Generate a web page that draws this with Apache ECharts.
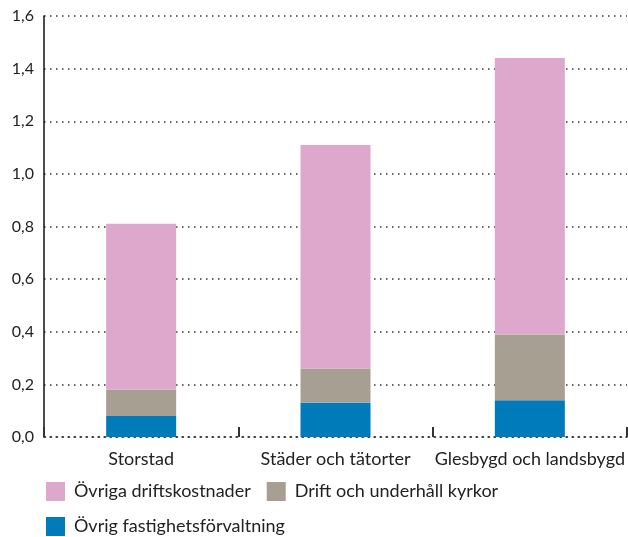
<!DOCTYPE html>
<html>
<head>
<meta charset="utf-8">
<script src="https://cdn.jsdelivr.net/npm/echarts@6/dist/echarts.min.js"></script>
<style>
  html, body { margin: 0; padding: 0; background: #fff; }
  #chart { width: 628px; height: 537px; }
</style>
</head>
<body>
<div id="chart"></div>
<script>
const categories = ['Storstad', 'Städer och tätorter', 'Glesbygd och landsbygd']
const fastighet = [0.08, 0.13, 0.14]   // Övrig fastighetsförvaltning
const kyrkor = [0.10, 0.13, 0.25]      // Drift och underhåll kyrkor
const ovriga = [0.63, 0.85, 1.05]      // Övriga driftskostnader
const legendNames = ['Övriga driftskostnader', 'Drift och underhåll kyrkor', 'Övrig fastighetsförvaltning']

const font = 'Lato'
const dotted = { color: '#333', width: 1.5, type: [1.5, 4.5] }

let myChart = echarts.init(document.getElementById('chart'))
myChart.setOption({
  animation: false,
  textStyle: { fontFamily: font },
  grid: {
    left: 44,
    right: 1,
    top: 16,
    bottom: 100
  },
  legend: {
    data: legendNames,
    left: 41,
    top: 477,
    width: 480,
    itemWidth: 19,
    itemHeight: 19,
    itemGap: 16,
    icon: 'rect',
    textStyle: { fontSize: 18, color: '#222', fontFamily: font, padding: [0, 4, 0, 4] }
  },
  xAxis: {
    type: 'category',
    data: categories,
    axisLine: { show: true, lineStyle: dotted },
    axisTick: { show: true, interval: 0, inside: true, length: 10, lineStyle: { color: '#333', width: 2 } },
    axisLabel: { interval: 0, fontSize: 18, color: '#222', margin: 13 }
  },
  yAxis: {
    type: 'value',
    min: 0,
    max: 1.6,
    interval: 0.2,
    axisLine: { show: true, lineStyle: { color: '#111', width: 1.5 } },
    axisTick: { show: false },
    axisLabel: {
      fontSize: 16,
      color: '#222',
      margin: 10,
      padding: [6, 0, 0, 0],
      formatter: v => v.toFixed(1).replace('.', ',')
    },
    splitLine: { show: true, lineStyle: dotted }
  },
  series: [
    {
      name: 'Övrig fastighetsförvaltning',
      type: 'bar',
      stack: 'total',
      barWidth: 70,
      data: fastighet,
      itemStyle: { color: '#007BBA' }
    },
    {
      name: 'Drift och underhåll kyrkor',
      type: 'bar',
      stack: 'total',
      barWidth: 70,
      data: kyrkor,
      itemStyle: { color: '#A89F93' }
    },
    {
      name: 'Övriga driftskostnader',
      type: 'bar',
      stack: 'total',
      barWidth: 70,
      data: ovriga,
      itemStyle: { color: '#DDA8CB' }
    }
  ]
})
</script>
</body>
</html>
